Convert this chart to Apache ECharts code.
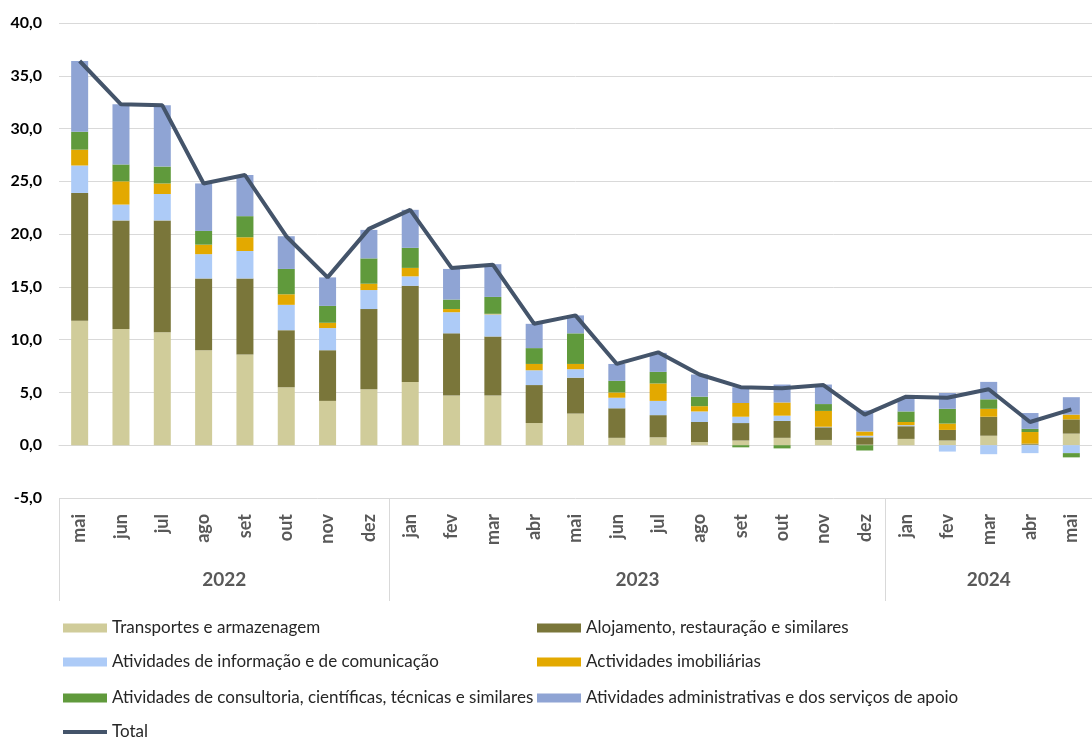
<!DOCTYPE html>
<html>
<head>
<meta charset="utf-8">
<script src="https://cdn.jsdelivr.net/npm/echarts@6/dist/echarts.min.js"></script>
<style>
  html, body { margin: 0; padding: 0; background: #fff; }
  #chart { width: 1092px; height: 740px; }
</style>
</head>
<body>
<div id="chart"></div>
<script>
const months = ['mai','jun','jul','ago','set','out','nov','dez','jan','fev','mar','abr','mai','jun','jul','ago','set','out','nov','dez','jan','fev','mar','abr','mai'];
const years = ['2022','2023','2024'];
const yearSpans = [8, 12, 5];
const yTicks = [-5, 0, 5, 10, 15, 20, 25, 30, 35, 40];

const transportes    = [11.8, 11.0, 10.7, 9.0, 8.6, 5.5, 4.2, 5.3, 6.0, 4.7, 4.7, 2.1, 3.0, 0.7, 0.75, 0.3, 0.45, 0.7, 0.5, 0.05, 0.6, 0.45, 0.9, 0.05, 1.1];
const alojamento     = [12.1, 10.3, 10.6, 6.8, 7.2, 5.4, 4.8, 7.6, 9.1, 5.9, 5.6, 3.6, 3.4, 2.8, 2.1, 1.9, 1.65, 1.6, 1.2, 0.7, 1.2, 1.0, 1.8, 0.1, 1.35];
const informacao     = [2.6, 1.5, 2.5, 2.3, 2.6, 2.4, 2.1, 1.8, 0.9, 2.0, 2.1, 1.4, 0.8, 1.0, 1.35, 1.0, 0.6, 0.5, 0.05, 0.15, 0.1, -0.6, -0.85, -0.75, -0.75];
const imobiliarias   = [1.5, 2.2, 1.0, 0.9, 1.3, 1.0, 0.5, 0.6, 0.8, 0.3, 0.05, 0.6, 0.5, 0.5, 1.65, 0.5, 1.3, 1.25, 1.5, 0.4, 0.3, 0.6, 0.75, 1.1, 0.45];
const consultoria    = [1.7, 1.6, 1.6, 1.3, 2.0, 2.4, 1.6, 2.4, 1.9, 0.9, 1.6, 1.5, 2.9, 1.1, 1.1, 0.9, -0.2, -0.3, 0.65, -0.5, 1.0, 1.4, 0.9, 0.3, -0.4];
const administrativas= [6.7, 5.7, 5.8, 4.5, 3.9, 3.1, 2.7, 2.7, 3.6, 2.9, 3.1, 2.3, 1.7, 1.6, 1.8, 2.1, 1.5, 1.7, 1.85, 2.0, 1.2, 1.5, 1.65, 1.5, 1.65];
const total          = [36.4, 32.3, 32.2, 24.8, 25.6, 19.8, 15.9, 20.5, 22.3, 16.8, 17.1, 11.5, 12.3, 7.7, 8.8, 6.7, 5.5, 5.4, 5.7, 2.9, 4.6, 4.5, 5.3, 2.2, 3.4];

const names = {
  t: 'Transportes e armazenagem',
  a: 'Alojamento, restauração e similares',
  i: 'Atividades de informação e de comunicação',
  r: 'Actividades imobiliárias',
  c: 'Atividades de consultoria, científicas, técnicas e similares',
  s: 'Atividades administrativas e dos serviços de apoio',
  tot: 'Total'
};
const colors = {
  t: '#d0cc9a', a: '#7a763a', i: '#adcbf7', r: '#e3a900', c: '#609a3c', s: '#8fa4d4', tot: '#44546a'
};

// year group boundaries and centers
const bounds = [0];
yearSpans.forEach(s => bounds.push(bounds[bounds.length - 1] + s));
const centers = yearSpans.map((s, k) => bounds[k] + s / 2);

const FONT = 'Lato, "Liberation Sans", sans-serif';

function bar(key, data) {
  return {
    name: names[key], type: 'bar', stack: 'all', data: data,
    barWidth: 17, itemStyle: { color: colors[key] },
    xAxisIndex: 0, yAxisIndex: 0
  };
}

// legend layout: [key, column, row]
const legendOrder = [['t',0,0],['a',1,0],['i',0,1],['r',1,1],['c',0,2],['s',1,2],['tot',0,3]];
const legendColX = [63, 537];
const legendRowTop = [618, 652, 688, 722];
const legends = legendOrder.map(([key, col, row]) => ({
  orient: 'horizontal', left: legendColX[col], top: legendRowTop[row], padding: 0,
  itemWidth: 44, itemHeight: key === 'tot' ? 4 : 9,
  textStyle: { fontSize: 17, lineHeight: 20, color: '#262626', fontFamily: FONT },
  data: [ { name: names[key], icon: 'rect' } ]
}));

const chart = echarts.init(document.getElementById('chart'), null, { renderer: 'canvas' });
chart.setOption({
  animation: false,
  textStyle: { fontFamily: FONT },
  grid: { left: 59, top: 23, width: 1043, height: 475, containLabel: false },
  xAxis: [
    {
      type: 'category', data: months, position: 'bottom', boundaryGap: true,
      axisLine: { show: true, lineStyle: { color: '#d9d9d9', width: 1 } },
      axisTick: { show: false },
      axisLabel: { interval: 0, rotate: 90, margin: 16, fontSize: 18, fontWeight: 'bold', color: '#595959', fontFamily: FONT },
      splitLine: { show: false }
    },
    {
      type: 'value', min: 0, max: bounds[bounds.length - 1], position: 'bottom', gridIndex: 0,
      axisLine: { show: false },
      axisTick: { show: true, customValues: bounds, length: 103, inside: false, lineStyle: { color: '#d9d9d9', width: 1 } },
      axisLabel: {
        show: true, customValues: centers, margin: 72, fontSize: 19, fontWeight: 'bold', color: '#595959', fontFamily: FONT,
        formatter: function (v) {
          const k = centers.findIndex(c => Math.abs(c - v) < 1e-6);
          return k >= 0 ? years[k] : '';
        }
      },
      splitLine: { show: false }
    }
  ],
  yAxis: {
    type: 'value', min: yTicks[0], max: yTicks[yTicks.length - 1], interval: 5,
    axisLine: { show: false }, axisTick: { show: false },
    axisLabel: {
      margin: 17, fontSize: 16, fontWeight: 'bold', color: '#000', fontFamily: FONT,
      formatter: v => v.toFixed(1).replace('.', ',')
    },
    splitLine: { show: true, lineStyle: { color: '#d9d9d9', width: 1 } }
  },
  legend: legends,
  series: [
    bar('t', transportes),
    bar('a', alojamento),
    bar('i', informacao),
    bar('r', imobiliarias),
    bar('c', consultoria),
    bar('s', administrativas),
    {
      name: names.tot, type: 'line', data: total, symbol: 'none', z: 5,
      lineStyle: { color: colors.tot, width: 4 }, itemStyle: { color: colors.tot },
      xAxisIndex: 0, yAxisIndex: 0
    }
  ]
});
</script>
</body>
</html>
